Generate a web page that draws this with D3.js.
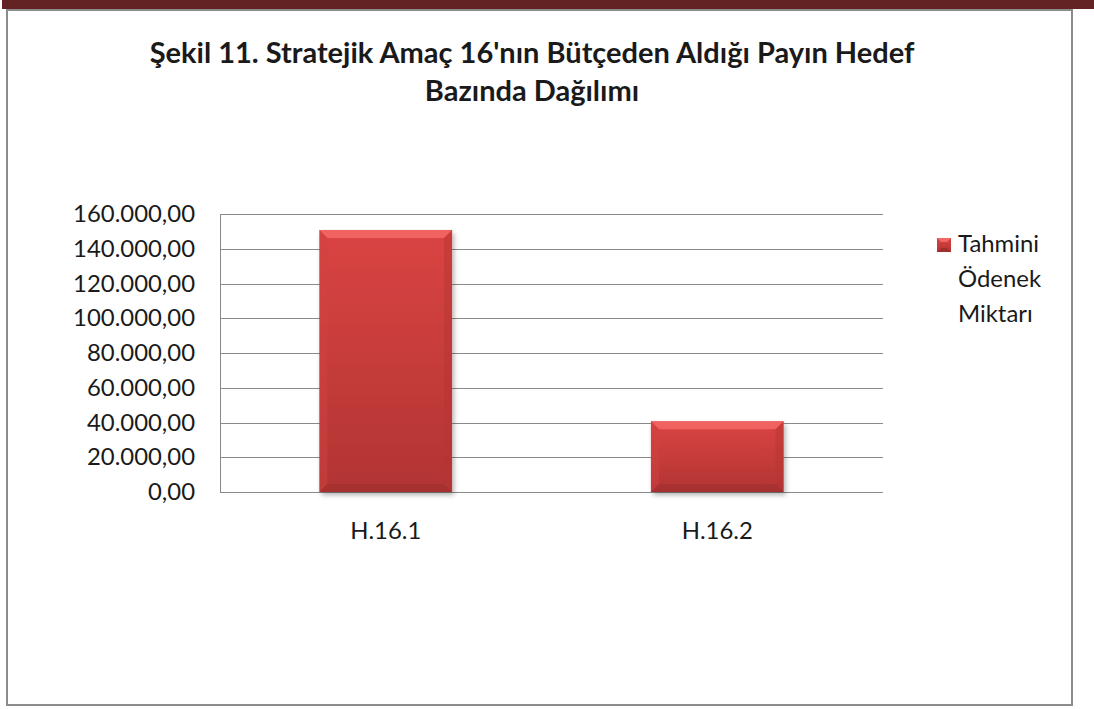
<!DOCTYPE html>
<html>
<head>
<meta charset="utf-8">
<script src="https://cdn.jsdelivr.net/npm/d3@7"></script>
<style>
  html, body { margin: 0; padding: 0; background: #fff; }
  svg { display: block; }
  text { font-family: Lato, "Noto Sans", sans-serif; fill: #1a1a1a; }
</style>
</head>
<body>
<div id="chart"></div>
<script>
// chart data
var categories = ["H.16.1", "H.16.2"];
var seriesName = "Tahmini Ödenek Miktarı";
var seriesLines = ["Tahmini", "Ödenek", "Miktarı"];
var values = [150800, 40700];
var yTicks = [0, 20000, 40000, 60000, 80000, 100000, 120000, 140000, 160000];
var titleLines = ["Şekil 11. Stratejik Amaç 16'nın Bütçeden Aldığı Payın Hedef", "Bazında Dağılımı"];

var W = 1094, H = 709;
var margin = { top: 214, left: 220, right: 211, bottom: 217 };
var width = W - margin.left - margin.right;
var height = H - margin.top - margin.bottom;

var svg = d3.select("#chart").append("svg")
  .attr("width", W)
  .attr("height", H);

var defs = svg.append("defs");

var grad = defs.append("linearGradient")
  .attr("id", "barFill")
  .attr("x1", 0).attr("y1", 0).attr("x2", 0).attr("y2", 1);
grad.append("stop").attr("offset", "0%").attr("stop-color", "#da4443");
grad.append("stop").attr("offset", "100%").attr("stop-color", "#b23433");

var shadow = defs.append("filter").attr("id", "shadow")
  .attr("x", "-10%").attr("y", "-10%").attr("width", "130%").attr("height", "130%");
shadow.append("feDropShadow")
  .attr("dx", 2).attr("dy", 3).attr("stdDeviation", 2.5)
  .attr("flood-color", "#000").attr("flood-opacity", 0.3);

// page decorations: maroon band and chart frame
svg.append("rect")
  .attr("x", 2).attr("y", 0).attr("width", W - 2).attr("height", 9)
  .attr("fill", "#632223");

svg.append("rect")
  .attr("x", 7).attr("y", 10).attr("width", 1065).attr("height", 695)
  .attr("fill", "#fff")
  .attr("stroke", "#8c8c8c")
  .attr("stroke-width", 2);

// helper: set font size so text fills a target width
function fitText(sel, target) {
  var w = sel.node().getComputedTextLength();
  var fs = parseFloat(sel.attr("font-size"));
  sel.attr("font-size", (fs * target / w).toFixed(2));
}

// title
var t1 = svg.append("text")
  .attr("x", 532).attr("y", 63)
  .attr("text-anchor", "middle")
  .attr("font-size", 24)
  .attr("font-weight", "bold")
  .text(titleLines[0]);
fitText(t1, 765);
svg.append("text")
  .attr("x", 532).attr("y", 101)
  .attr("text-anchor", "middle")
  .attr("font-size", t1.attr("font-size"))
  .attr("font-weight", "bold")
  .text(titleLines[1]);

// scales
var x = d3.scaleBand().domain(categories).range([0, width]).paddingInner(0.6).paddingOuter(0.3);
var y = d3.scaleLinear().domain([0, 160000]).range([height, 0]);

var fmt = function(v) {
  var s = d3.format(",.2f")(v);
  return s.replace(/,/g, "#").replace(/\./g, ",").replace(/#/g, ".");
};

var chart = svg.append("g")
  .attr("transform", "translate(" + margin.left + "," + margin.top + ")");

// gridlines
chart.append("g")
  .attr("class", "grid")
  .selectAll("line")
  .data(yTicks)
  .enter().append("line")
  .attr("x1", 0).attr("x2", width)
  .attr("y1", function(d) { return Math.round(y(d)) + 0.5; })
  .attr("y2", function(d) { return Math.round(y(d)) + 0.5; })
  .attr("stroke", "#8a8a8a")
  .attr("stroke-width", 1);

chart.append("line")
  .attr("x1", 0.5).attr("x2", 0.5)
  .attr("y1", Math.round(y(160000)) + 0.5).attr("y2", Math.round(y(0)) + 0.5)
  .attr("stroke", "#8a8a8a");

// y axis labels
var yAxis = chart.append("g")
  .attr("class", "axis")
  .attr("transform", "translate(-25,0)")
  .call(d3.axisLeft(y).tickValues(yTicks).tickFormat(fmt).tickSize(0).tickPadding(0));
yAxis.select(".domain").remove();
yAxis.selectAll("text")
  .attr("font-size", 19)
  .attr("fill", "#1a1a1a")
  .style("font-family", "Lato, 'Noto Sans', sans-serif");
var lab = yAxis.select(".tick:last-of-type text");
var fsY = 19 * 122 / lab.node().getComputedTextLength();
yAxis.selectAll("text").attr("font-size", fsY.toFixed(2));

// x axis labels
var xAxis = chart.append("g")
  .attr("class", "axis")
  .attr("transform", "translate(0," + (height + 30) + ")")
  .call(d3.axisBottom(x).tickSize(0).tickPadding(0));
xAxis.select(".domain").remove();
xAxis.selectAll("text")
  .attr("font-size", fsY.toFixed(2))
  .attr("fill", "#1a1a1a")
  .style("font-family", "Lato, 'Noto Sans', sans-serif");

// bars with bevel edges
var bev = 8;
var bars = chart.append("g").attr("class", "bars")
  .selectAll("g")
  .data(values)
  .enter().append("g");

bars.append("rect")
  .attr("x", function(d, i) { return x(categories[i]); })
  .attr("y", function(d) { return y(d); })
  .attr("width", x.bandwidth())
  .attr("height", function(d) { return height - y(d); })
  .attr("fill", "url(#barFill)")
  .attr("filter", "url(#shadow)");

function bevelPath(x0, y0, w, h, side) {
  var x1 = x0 + w, y1 = y0 + h;
  if (side === "top") return [[x0, y0], [x1, y0], [x1 - bev, y0 + bev], [x0 + bev, y0 + bev]];
  if (side === "left") return [[x0, y0], [x0 + bev, y0 + bev], [x0 + bev, y1 - bev], [x0, y1]];
  if (side === "right") return [[x1, y0], [x1 - bev, y0 + bev], [x1 - bev, y1 - bev], [x1, y1]];
  return [[x0, y1], [x0 + bev, y1 - bev], [x1 - bev, y1 - bev], [x1, y1]];
}
var bevelColors = { top: "#f26664", left: "#cf4241", right: "#b53534", bottom: "#8f2b2a" };
var bevelOpac = { top: 0.9, left: 0.5, right: 0.5, bottom: 0.35 };

["top", "left", "right", "bottom"].forEach(function(side) {
  bars.append("polygon")
    .attr("points", function(d, i) {
      return bevelPath(x(categories[i]), y(d), x.bandwidth(), height - y(d), side).join(" ");
    })
    .attr("fill", bevelColors[side])
    .attr("opacity", bevelOpac[side]);
});

// legend
var legend = svg.append("g")
  .attr("transform", "translate(937,238)");
legend.append("rect")
  .attr("width", 14).attr("height", 14)
  .attr("fill", "url(#barFill)");
legend.append("polygon")
  .attr("points", "0,0 14,0 10,4 4,4")
  .attr("fill", "#f26664");
legend.append("polygon")
  .attr("points", "0,14 4,10 10,10 14,14")
  .attr("fill", "#8f2b2a")
  .attr("opacity", 0.6);
legend.selectAll("text.leg")
  .data(seriesLines)
  .enter().append("text")
  .attr("class", "leg")
  .attr("x", 21)
  .attr("y", function(d, i) { return 14 + i * 35; })
  .attr("font-size", fsY.toFixed(2))
  .text(function(d) { return d; });
legend.append("title").text(seriesName);
</script>
</body>
</html>
